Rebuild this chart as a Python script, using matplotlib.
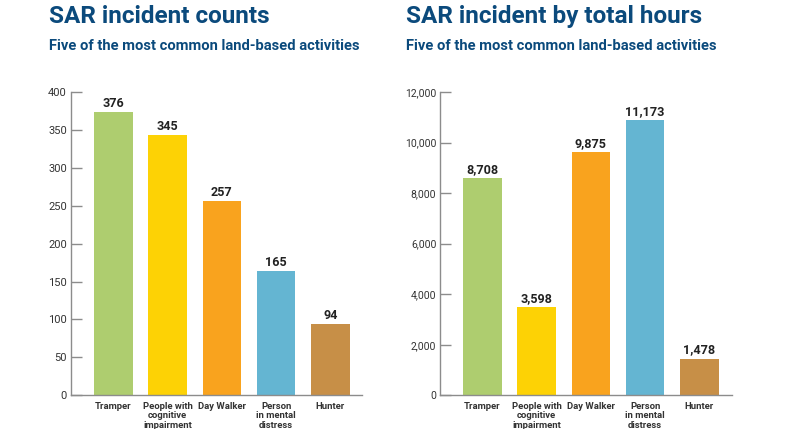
#!/usr/bin/env python

"""
 SAR incidents, two bar panels side by side
"""
import matplotlib.pyplot as plt

plt.rcParams['font.family'] = ['Roboto', 'DejaVu Sans']

W, H = 795, 429

activities = ['Tramper', 'People with\ncognitive\nimpairment', 'Day Walker',
              'Person\nin mental\ndistress', 'Hunter']
bar_colors = ['#aecd6f', '#fdd205', '#f9a31e', '#64b5d2', '#c78f47']

# printed labels, the bars in the picture stand a bit lower than these
counts_printed = [376, 345, 257, 165, 94]
counts_drawn = [374, 343, 256, 164, 93.5]
count_ticks = [0, 50, 100, 150, 200, 250, 300, 350, 400]

hours_printed = [8708, 3598, 9875, 11173, 1478]
hours_drawn = [8600, 3505, 9625, 10890, 1450]
hour_ticks = [0, 2000, 4000, 6000, 8000, 10000, 12000]

title_color = '#0b4a7c'
axis_color = '#8c8c8c'


def draw_panel(fig, left, right, xlo, xhi, heights, printed, ticks, title, title_x, tick_size):
    top, bottom = 92.0, 395.3
    ax = fig.add_axes([left / W, 1 - bottom / H, (right - left) / W, (bottom - top) / H])
    ax.bar(range(len(heights)), heights, width=0.71, color=bar_colors)
    ax.set_xlim(xlo, xhi)
    ax.set_ylim(0, ticks[-1])

    for i in range(len(heights)):
        ax.annotate(f'{printed[i]:,}', (i, heights[i]), xytext=(0, 1.5), textcoords='offset points',
                    ha='center', va='bottom', fontsize=9.1, fontweight='bold', color='#222222')

    ax.spines['top'].set_visible(False)
    ax.spines['right'].set_visible(False)
    ax.spines['left'].set_color(axis_color)
    ax.spines['bottom'].set_color(axis_color)
    ax.spines['left'].set_linewidth(1.0)
    ax.spines['bottom'].set_linewidth(1.0)

    ax.set_yticks(ticks)
    ax.set_yticklabels([f'{t:,}' for t in ticks])
    ax.tick_params(axis='y', direction='in', length=8, width=1.0, color=axis_color,
                   labelsize=tick_size, labelcolor='#333333', pad=2.7)
    ax.set_xticks(range(len(activities)))
    ax.set_xticklabels(activities, linespacing=1.03)
    ax.tick_params(axis='x', length=0, labelsize=6.8, labelcolor='#333333', pad=5)
    for lab in ax.get_xticklabels():
        lab.set_fontweight('bold')

    fig.text(title_x / W, 1 - 23 / H, title, fontsize=17.5, fontweight='bold',
             color=title_color, ha='left', va='baseline')
    fig.text(title_x / W, 1 - 50 / H, 'Five of the most common land-based activities',
             fontsize=10.6, fontweight='bold', color=title_color, ha='left', va='baseline')
    return ax


fig = plt.figure(figsize=(W / 100, H / 100), dpi=100)

draw_panel(fig, 70.7, 362, -0.79, 4.585, counts_drawn, counts_printed, count_ticks,
           'SAR incident counts', 49, 8)
draw_panel(fig, 440, 732, -0.78, 4.6, hours_drawn, hours_printed, hour_ticks,
           'SAR incident by total hours', 406, 7.5)

plt.savefig('out.png', dpi=100)
plt.close()
